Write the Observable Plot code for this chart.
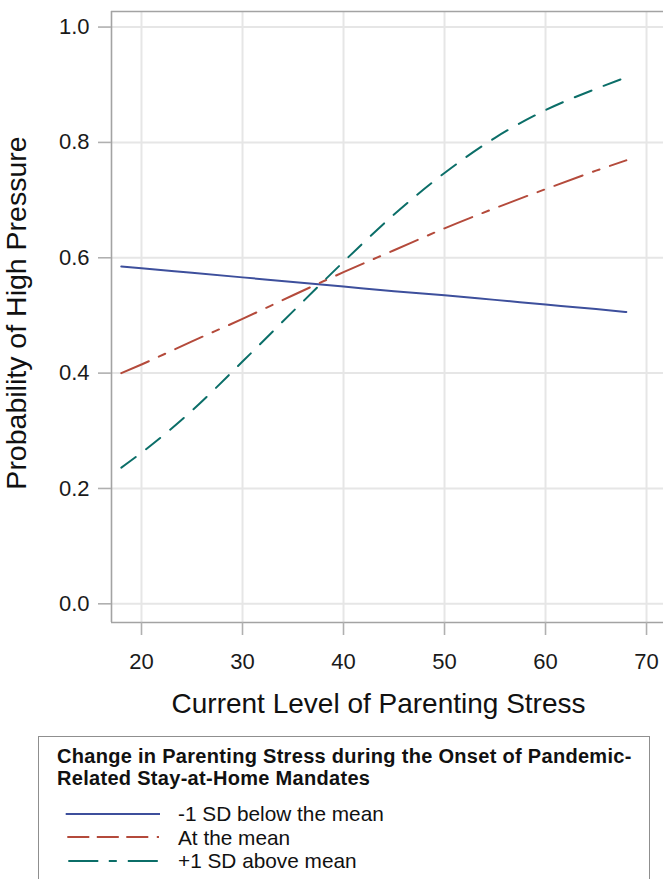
<!DOCTYPE html>
<html>
<head>
<meta charset="utf-8">
<script src="https://cdn.jsdelivr.net/npm/d3@7"></script>
<script src="https://cdn.jsdelivr.net/npm/@observablehq/plot@0.6"></script>
<style>
  html, body { margin: 0; padding: 0; background: #fff; }
  body { width: 663px; height: 879px; overflow: hidden; font-family: "Liberation Sans", Arial, sans-serif; }
  #legend {
    position: absolute; left: 38px; top: 736px; width: 612px; height: 170px;
    box-sizing: border-box; border: 1px solid #8f8f8f; background: #fff;
  }
  #legend .ttl { font-weight: bold; font-size: 20px; line-height: 22px; letter-spacing: 0.3px; color: #111;
    padding: 8px 0 0 18px; white-space: nowrap; }
  #legend .rows { margin-top: 13px; }
  #legend .row { display: flex; align-items: center; height: 23.5px; }
  #legend .row svg { margin-left: 26px; flex: none; }
  #legend .row span { margin-left: 18px; font-size: 20.8px; line-height: 23px; color: #111; white-space: nowrap; }
</style>
</head>
<body>
<div id="chart"></div>
<div id="legend"></div>
<script>
// ---- data ----
const stress = [18, 20, 25, 30, 35, 40, 45, 50, 55, 60, 65, 68];
const belowMean = [0.585, 0.582, 0.574, 0.566, 0.558, 0.550, 0.542, 0.535, 0.527, 0.519, 0.511, 0.506];
const atMean    = [0.400, 0.415, 0.455, 0.494, 0.535, 0.575, 0.613, 0.651, 0.686, 0.719, 0.751, 0.769];
const aboveMean = [0.236, 0.262, 0.335, 0.420, 0.507, 0.593, 0.675, 0.747, 0.808, 0.856, 0.893, 0.913];
const seriesNames = ["-1 SD below the mean", "At the mean", "+1 SD above mean"];
const seriesColors = ["#3d4f9c", "#b44a3b", "#0b6e68"];
const xTicks = [20, 30, 40, 50, 60, 70];
const yTicks = [0.0, 0.2, 0.4, 0.6, 0.8, 1.0];
const xTitle = "Current Level of Parenting Stress";
const yTitle = "Probability of High Pressure";
const legendTitleLines = ["Change in Parenting Stress during the Onset of Pandemic-", "Related Stay-at-Home Mandates"];

const seriesValues = [belowMean, atMean, aboveMean];
const rows = seriesNames.flatMap((name, s) =>
  stress.map((x, i) => ({x, p: seriesValues[s][i], series: name})));

const xDomain = [17.03, 71.68];
const yDomain = [-0.0324, 1.027];
const font = "'Liberation Sans', Arial, sans-serif";
const frameColor = "#a3a3a3";
const gridColor = "#e6e6e6";
const dashes = [null, "30,11,7,11", "18,13"];

const lineMarks = seriesNames.map((name, s) =>
  Plot.line(rows.filter(d => d.series === name), {
    x: "x", y: "p", stroke: seriesColors[s], strokeWidth: 2,
    strokeDasharray: dashes[s] ?? undefined, curve: "monotone-x"
  }));

const chart = Plot.plot({
  width: 663,
  height: 722,
  marginLeft: 111,
  marginRight: 0,
  marginTop: 11,
  marginBottom: 100,
  style: {fontFamily: font, background: "#fff", color: "#1a1a1a", overflow: "visible"},
  x: {domain: xDomain},
  y: {domain: yDomain},
  marks: [
    Plot.gridX(xTicks, {stroke: gridColor, strokeOpacity: 1, strokeWidth: 2}),
    Plot.gridY(yTicks, {stroke: gridColor, strokeOpacity: 1, strokeWidth: 2}),
    Plot.ruleX([xDomain[0]], {stroke: frameColor, strokeWidth: 1.6}),
    Plot.ruleY([yDomain[1]], {stroke: frameColor, strokeWidth: 1.6}),
    Plot.ruleY([yDomain[0]], {stroke: frameColor, strokeWidth: 1.6}),
    ...lineMarks,
    Plot.axisX(xTicks, {tickSize: 13, tickPadding: 18, fontSize: 22, stroke: "#b0b0b0",
      strokeWidth: 1.6, label: null, fontFamily: font}),
    Plot.axisY(yTicks, {tickSize: 13, tickPadding: 9, fontSize: 22, stroke: "#b0b0b0",
      strokeWidth: 1.6, label: null, tickFormat: d3.format(".1f"), fontFamily: font}),
    Plot.text([xTitle], {frameAnchor: "bottom", lineAnchor: "bottom", dy: 90, dx: -9,
      fontSize: 28, fill: "#111", fontFamily: font}),
    Plot.text([yTitle], {frameAnchor: "left", textAnchor: "middle", rotate: -90, lineAnchor: "bottom",
      dx: -86, dy: -4, fontSize: 28.5, fill: "#111", fontFamily: font})
  ]
});
document.getElementById("chart").appendChild(chart);

// ---- legend ----
const legend = document.getElementById("legend");
const ttl = document.createElement("div");
ttl.className = "ttl";
legendTitleLines.forEach(t => {
  const d = document.createElement("div");
  d.textContent = t;
  ttl.appendChild(d);
});
legend.appendChild(ttl);
const rowsDiv = document.createElement("div");
rowsDiv.className = "rows";
legend.appendChild(rowsDiv);
const legendDashes = [
  {x1: 0.7, x2: 95, dash: null},
  {x1: 2.3, x2: 94, dash: "22,7.5,22,7.5,22,8.5,2.5,200"},
  {x1: 3.3, x2: 93, dash: "30,10.5,8,11,30,200"}
];
seriesNames.forEach((name, s) => {
  const row = document.createElement("div");
  row.className = "row";
  const svg = d3.create("svg").attr("width", 95).attr("height", 6);
  const ln = svg.append("line").attr("x1", legendDashes[s].x1).attr("x2", legendDashes[s].x2)
    .attr("y1", 3).attr("y2", 3).attr("stroke", seriesColors[s]).attr("stroke-width", 2);
  if (legendDashes[s].dash) ln.attr("stroke-dasharray", legendDashes[s].dash);
  row.appendChild(svg.node());
  const sp = document.createElement("span");
  sp.textContent = name;
  row.appendChild(sp);
  rowsDiv.appendChild(row);
});
</script>
</body>
</html>
